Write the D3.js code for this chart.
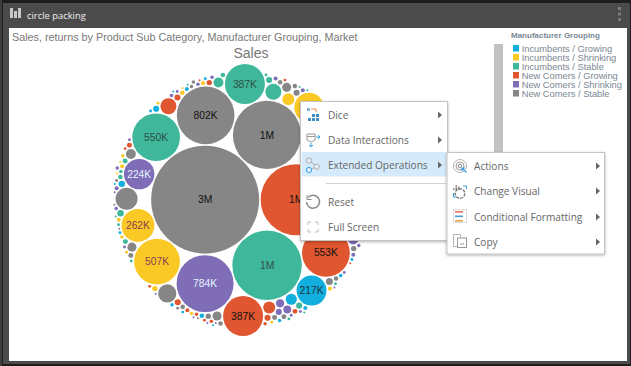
<!doctype html>
<html lang="en">
<head>
    <meta charset="utf-8">
    <title>circle packing</title>
    <script src="https://cdn.jsdelivr.net/npm/d3@7"></script>
    <style>
        html, body { margin: 0; padding: 0; background: #1e1e1e; overflow: hidden; }
        svg { display: block; }
        .menu text { font-family: "Open Sans", sans-serif; font-size: 10.1px; fill: #666666; }
    </style>
</head>
<body>
<svg id="chart" width="631" height="366"></svg>
<script>

    const groups = ["Incumbents / Growing", "Incumbents / Shrinking", "Incumbents / Stable",
        "New Comers / Growing", "New Comers / Shrinking", "New Comers / Stable"];
    const colors = ["#11aede", "#fbc926", "#3fb79a", "#df5630", "#7f6db7", "#868686"];
    const labelColors = ["#1f3440", "#8a3d52", "#2f4f48", "#111111", "#e4f6ff", "#111111"];

    // sales per circle in K, order is the packing order
    // the 640, 290 and 270 sit behind the context menu, their size is a guess from the gap they leave
    const sales = [2820, 1220, 1165, 1120, 802, 784, 640, 553, 550, 507, 387, 387, 290, 270, 262, 224, 217, 210,
        117, 80, 62, 62, 35, 35, 30, 24, 24, 24, 20, 20, 20, 16, 15, 12, 12, 12, 12, 10, 10,
        9, 9, 9, 9, 9, 9, 9, 9, 7, 7, 7, 7, 6, 6, 6, 6, 6, 6, 6, 6, 5, 5, 5, 5, 5, 5, 5, 5, 5, 5,
        4, 4, 4, 4, 4, 4, 4, 4, 4, 4, 4, 4, 4, 4, 4, 3, 3, 3, 3, 3, 3, 3, 3, 3, 3, 3, 3, 3, 3, 3,
        3, 3, 3, 3, 3, 2, 2, 2, 2, 2, 2, 2, 2, 2, 2, 2, 2, 2, 2, 2, 2, 2, 2, 2, 2, 2, 2, 2, 2, 2,
        2, 2, 2, 2, 2, 1, 1, 1, 1, 1, 1, 1, 1, 1, 1, 1, 1, 1, 1, 1, 1, 1, 1, 1, 1, 1, 1, 1, 1, 1];
    // index into groups for each of the sales above
    const salesGroup = [5, 3, 2, 5, 5, 4, 3, 3, 2, 1, 2, 3, 0, 3, 1, 4, 0, 1,
        5, 5, 3, 2, 3, 1, 0, 4, 2, 5, 5, 5, 5, 4, 4, 3, 5, 3, 0, 0, 2,
        4, 5, 3, 3, 3, 2, 2, 0, 1, 5, 3, 5, 5, 2, 2, 5, 3, 2, 5, 3, 5, 5, 1, 5, 4, 2, 5, 0, 5, 2,
        2, 1, 3, 1, 1, 4, 4, 2, 3, 0, 0, 4, 1, 4, 4, 3, 4, 4, 3, 4, 3, 3, 0, 2, 1, 0, 5, 4, 1, 0,
        5, 4, 2, 4, 1, 3, 4, 2, 2, 5, 3, 0, 4, 1, 2, 0, 3, 4, 2, 5, 0, 4, 1, 3, 0, 2, 4, 5, 1, 3,
        0, 4, 3, 2, 0, 4, 1, 5, 3, 0, 2, 4, 1, 3, 0, 4, 2, 5, 0, 3, 4, 1, 2, 0, 4, 3, 5, 0, 2, 4];
    // labels under the menu can't be read in the picture
    const unlabelled = [640, 290, 270];

    const menuItems = ["Dice", "Data Interactions", "Extended Operations", "Reset", "Full Screen"];
    const subMenuItems = ["Actions", "Change Visual", "Conditional Formatting", "Copy"];

    const svg = d3.select("#chart");

    // frame and header
    svg.append("rect").attr("width", 2).attr("height", 366).attr("fill", "#3d3d3d");
    svg.append("rect").attr("x", 3).attr("y", 3).attr("width", 627).attr("height", 361).attr("fill", "#4b4b4b");
    svg.append("rect").attr("x", 9).attr("y", 28).attr("width", 618).attr("height", 333).attr("fill", "#ffffff");
    [[10, 8, 10], [14, 11, 7], [18, 8, 10]].forEach(b => {
        svg.append("rect").attr("x", b[0]).attr("y", b[1]).attr("width", 3).attr("height", b[2]).attr("fill", "#c9c9c9");
    });
    [7, 12.5, 18].forEach(y => {
        svg.append("rect").attr("x", 618).attr("y", y).attr("width", 3).attr("height", 3).attr("fill", "#7c7c7c");
    });
    svg.append("text").attr("x", 27).attr("y", 18.5).attr("fill", "#ececec")
        .style("font-family", "'Open Sans', sans-serif").style("font-size", "9.4px").text("circle packing");

    svg.append("text").attr("x", 12).attr("y", 41).attr("fill", "#777777")
        .style("font-family", "'Liberation Sans', Arial, sans-serif").style("font-size", "10.8px")
        .text("Sales, returns by Product Sub Category, Manufacturer Grouping, Market");
    svg.append("text").attr("x", 251).attr("y", 58).attr("text-anchor", "middle").attr("fill", "#777777")
        .style("font-family", "'Liberation Sans', Arial, sans-serif").style("font-size", "14px").text("Sales");

    // legend
    svg.append("rect").attr("x", 494).attr("y", 44).attr("width", 9).attr("height", 150).attr("fill", "#c2c2c2");
    svg.append("text").attr("x", 511).attr("y", 38).attr("fill", "#7a8794")
        .style("font-family", "'Liberation Sans', Arial, sans-serif").style("font-size", "8px").style("font-weight", "bold")
        .text("Manufacturer Grouping");
    const legendY = d3.scaleBand().domain(groups).range([45, 99]);
    const legend = svg.append("g").selectAll("g").data(groups).enter().append("g")
        .attr("transform", d => `translate(513,${legendY(d)})`);
    legend.append("rect").attr("width", 6).attr("height", 6.5).attr("fill", (d, i) => colors[i]);
    legend.append("text").attr("x", 8.7).attr("y", 6.7).attr("fill", "#7a8794")
        .style("font-family", "'Liberation Sans', Arial, sans-serif").style("font-size", "9.3px")
        .text(d => d);

    // circles
    const r = d3.scaleSqrt().domain([0, d3.max(sales)]).range([0, 54]);
    const root = d3.hierarchy({ children: sales.map((v, i) => ({ value: v, group: salesGroup[i] })) })
        .sum(d => d.value || 0);
    d3.pack().size([274, 274]).radius(d => r(d.value)).padding(1.5)(root);

    const chart = svg.append("g").attr("transform", "translate(107,63)");
    const node = chart.selectAll("g").data(root.leaves()).enter().append("g")
        .attr("transform", d => `translate(${d.x},${d.y})`);
    node.append("circle").attr("r", d => d.r).attr("fill", d => colors[d.data.group]);
    node.filter(d => d.data.value >= 212 && !unlabelled.includes(d.data.value)).append("text")
        .attr("text-anchor", "middle").attr("dy", "0.35em")
        .attr("fill", d => labelColors[d.data.group])
        .style("font-family", "'Liberation Sans', Arial, sans-serif").style("font-size", "10.3px")
        .text(d => d.data.value >= 1000 ? Math.round(d.data.value / 1000) + "M" : d.data.value + "K");

    // context menus
    const defs = svg.append("defs");
    const shadow = defs.append("filter").attr("id", "shadow").attr("x", "-10%").attr("y", "-10%").attr("width", "120%").attr("height", "120%");
    shadow.append("feDropShadow").attr("dx", 0).attr("dy", 1).attr("stdDeviation", 1.5).attr("flood-opacity", 0.3);

    function drawMenu(x, y, w, h, items, opts) {
        const g = svg.append("g").attr("class", "menu");
        g.append("rect").attr("x", x).attr("y", y).attr("width", w).attr("height", h)
            .attr("fill", "#fff").attr("stroke", "#c4c4c4").attr("filter", "url(#shadow)");
        if (opts.highlight) g.append("rect").attr("x", x + 1).attr("y", opts.highlight).attr("width", w - 2).attr("height", 24.5).attr("fill", "#d5ebfb");
        items.forEach((t, i) => {
            g.append("text").attr("x", opts.textX).attr("y", opts.rows[i] + 4).text(t);
            if (opts.arrows[i]) g.append("path")
                .attr("d", `M${opts.arrowX},${opts.rows[i] - 3.5}l4,3.5l-4,3.5z`).attr("fill", "#666");
        });
        return g;
    }

    const menu = drawMenu(300.5, 101.5, 147, 139, menuItems,
        { textX: 328, arrowX: 438, rows: [115, 140, 165, 202, 227], arrows: [1, 1, 1, 0, 0], highlight: 152 });
    menu.append("line").attr("x1", 326).attr("x2", 446).attr("y1", 183.5).attr("y2", 183.5).attr("stroke", "#d0d0d0");

    const sub = drawMenu(447, 152.5, 157.5, 101.5, subMenuItems,
        { textX: 474, arrowX: 596, rows: [166, 191, 217, 242], arrows: [1, 1, 1, 1] });

    // small helper for the menu icons
    function stroke(g, d, color, width) {
        return g.append("path").attr("d", d).attr("fill", "none").attr("stroke", color).attr("stroke-width", width || 1);
    }
    function ring(g, cx, cy, rad, color, width) {
        return g.append("circle").attr("cx", cx).attr("cy", cy).attr("r", rad).attr("fill", "none")
            .attr("stroke", color).attr("stroke-width", width || 1);
    }

    // dice
    [[312, 114], [316, 114], [308, 118], [312, 118], [316, 118]].forEach(c => {
        menu.append("rect").attr("x", c[0]).attr("y", c[1]).attr("width", 3).attr("height", 3).attr("fill", "#3f8fc4");
    });
    menu.append("rect").attr("x", 307).attr("y", 108).attr("width", 3).attr("height", 3).attr("fill", "#7fb5d8");
    stroke(menu, "M311,109h5v3", "#e8874a");
    // data interactions
    stroke(menu, "M307,134h8v6l-4,2l-4,-2z M307,136.5h8", "#9a9a9a");
    stroke(menu, "M316,137h4 M318,135l2,2l-2,2 M311,143v4 M309,145l2,2l2,-2", "#35a0e0");
    // extended operations
    stroke(menu, "M309,160.5L316.7,166.7L309,170", "#b5b5b5");
    [[309, 160.5, "#aaaaaa"], [316.7, 166.7, "#aaaaaa"], [309, 170, "#35a0e0"]].forEach(c => {
        menu.append("circle").attr("cx", c[0]).attr("cy", c[1]).attr("r", 2.6).attr("fill", "#e4f1fb").attr("stroke", c[2]);
    });
    // reset
    stroke(menu, "M308,197.5a6.5,6.5 0 1 1 -1.5,4.5", "#8a8a8a", 1.5);
    stroke(menu, "M307,195v4.5h4.5", "#8a8a8a");
    // full screen
    stroke(menu, "M308,225v-3h3 M315,222h3v3 M318,229v3h-3 M311,232h-3v-3", "#bbbbbb");
    // actions
    ring(sub, 460, 166, 6.5, "#b5b5b5");
    ring(sub, 460, 166, 4, "#a0a0a0");
    ring(sub, 460, 166, 1.8, "#8a8a8a");
    stroke(sub, "M462,168l4.5,4.5 M462,168h3 M462,168v3", "#35a0e0", 1.2);
    // change visual
    [[453, 188, 2], [455.5, 185, 5], [458, 186.5, 3.5]].forEach(b => {
        sub.append("rect").attr("x", b[0]).attr("y", b[1]).attr("width", 1.6).attr("height", b[2]).attr("fill", "#9a9a9a");
    });
    ring(sub, 460, 193.5, 4.8, "#777777", 1.4).attr("stroke-dasharray", "3 1.2");
    stroke(sub, "M463,186h3.5v3 M453.5,193v4h3", "#35a0e0");
    // conditional formatting
    sub.append("rect").attr("x", 453.5).attr("y", 209.5).attr("width", 13).attr("height", 13).attr("fill", "none").attr("stroke", "#dddddd");
    [[211, "#e8705a"], [215.5, "#4d9ad0"], [220, "#eda24a"]].forEach(b => {
        sub.append("rect").attr("x", 455).attr("y", b[0]).attr("width", 8).attr("height", 1.6).attr("fill", b[1]);
    });
    // copy
    sub.append("rect").attr("x", 453.5).attr("y", 234.5).attr("width", 7).attr("height", 12).attr("fill", "none").attr("stroke", "#b5b5b5");
    sub.append("rect").attr("x", 457.5).attr("y", 238).attr("width", 9).attr("height", 9.5).attr("fill", "#fff").attr("stroke", "#999999");
    stroke(sub, "M460,244h4", "#999999");

</script>
</body>
</html>
